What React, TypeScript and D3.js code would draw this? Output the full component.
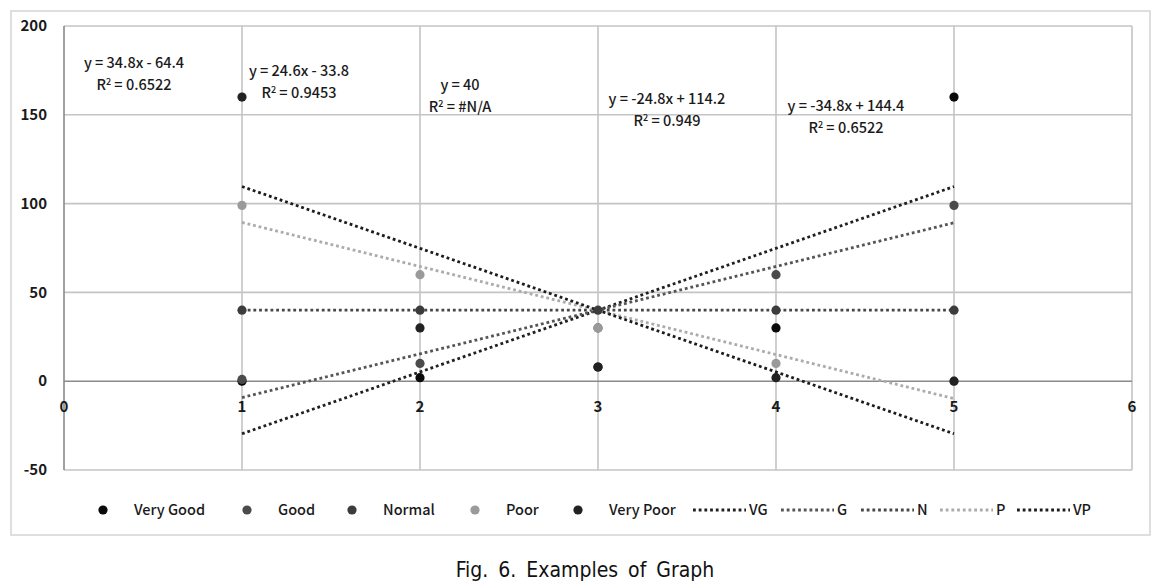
import React from 'react';
import * as d3 from 'd3';

// survey answers per grade (x = 1..5)
const grades = [1, 2, 3, 4, 5];
const veryGood = [0, 2, 8, 30, 160];
const good = [1, 10, 30, 60, 99];
const normal = [40, 40, 40, 40, 40];
const poor = [99, 60, 30, 10, 0];
const veryPoor = [160, 30, 8, 2, 0];

const seriesNames = ['Very Good', 'Good', 'Normal', 'Poor', 'Very Poor'];
const trendNames = ['VG', 'G', 'N', 'P', 'VP'];
const equations = ['y = 34.8x - 64.4', 'y = 24.6x - 33.8', 'y = 40', 'y = -24.8x + 114.2', 'y = -34.8x + 144.4'];
const rSquared = ['0.6522', '0.9453', '#N/A', '0.949', '0.6522'];

const xTicks = [0, 1, 2, 3, 4, 5, 6];
const yTicks = [-50, 0, 50, 100, 150, 200];

const W = 1170;
const H = 588;
const plot = { left: 64, right: 1132, top: 26, bottom: 470 };

const pointColors = ['#0a0a0a', '#4b4b4b', '#3c3c3c', '#9a9a9a', '#222222'];
const trendColors = ['#202020', '#555555', '#474747', '#ababab', '#1c1c1c'];

// label placement (pixel centers of the equation line; R² sits 22px below)
const eqPos = [
  [134, 63],
  [299, 71],
  [460, 85],
  [667, 99],
  [846, 106],
];

const legendMarkerX = [103, 247, 352, 475, 578];
const legendLineX = [693, 781, 861, 940, 1017];

const font = "'Noto Sans CJK KR', 'Noto Sans', sans-serif";

function fit(ys: number[]) {
  const mx = d3.mean(grades)!;
  const my = d3.mean(ys)!;
  const sxy = d3.sum(grades, (x, i) => (x - mx) * (ys[i] - my));
  const sxx = d3.sum(grades, x => (x - mx) ** 2);
  const slope = sxy / sxx;
  return { slope, intercept: my - slope * mx };
}

export default function App() {
  const x = d3.scaleLinear().domain([0, 6]).range([plot.left, plot.right]);
  const y = d3.scaleLinear().domain([-50, 200]).range([plot.bottom, plot.top]);
  const all = [veryGood, good, normal, poor, veryPoor];
  const dash = '2.8 2.9';

  return (
    <svg width={W} height={H} style={{ position: 'absolute', left: 0, top: 0, background: '#fff' }}>
      <rect x={11} y={11} width={1139} height={524} fill="#fff" stroke="#d4d4d4" strokeWidth={1.5} />

      {/* grid */}
      {yTicks.filter(t => t !== 0).map(t => (
        <line key={'gy' + t} x1={plot.left} x2={plot.right} y1={y(t)} y2={y(t)} stroke="#c4c4c4" strokeWidth={1.6} />
      ))}
      {xTicks.filter(t => t !== 0).map(t => (
        <line key={'gx' + t} x1={x(t)} x2={x(t)} y1={plot.top} y2={plot.bottom} stroke="#c4c4c4" strokeWidth={1.6} />
      ))}
      <line x1={plot.left} x2={plot.right} y1={y(0)} y2={y(0)} stroke="#8a8a8a" strokeWidth={1.6} />
      <line x1={x(0)} x2={x(0)} y1={plot.top} y2={plot.bottom} stroke="#8a8a8a" strokeWidth={1.6} />

      {/* tick labels */}
      {yTicks.map(t => (
        <text key={'ty' + t} x={47} y={y(t)} dy="0.35em" textAnchor="end" fontFamily={font} fontSize={15} fontWeight={600} fill="#1a1a1a">
          {t}
        </text>
      ))}
      {xTicks.map(t => (
        <text key={'tx' + t} x={x(t)} y={y(0) + 26} dy="0.35em" textAnchor="middle" fontFamily={font} fontSize={15} fontWeight={600} fill="#1a1a1a">
          {t}
        </text>
      ))}

      {/* trendlines */}
      {all.map((ys, i) => {
        const f = fit(ys);
        const x0 = grades[0];
        const x1 = grades[grades.length - 1];
        return (
          <line key={'tr' + i} x1={x(x0)} y1={y(f.slope * x0 + f.intercept)} x2={x(x1)} y2={y(f.slope * x1 + f.intercept)}
            stroke={trendColors[i]} strokeWidth={2.8} strokeDasharray={dash} />
        );
      })}

      {/* points */}
      {all.map((ys, i) => (
        <g key={'s' + i} fill={pointColors[i]}>
          {ys.map((v, j) => (
            <circle key={j} cx={x(grades[j])} cy={y(v)} r={4.6} />
          ))}
        </g>
      ))}

      {/* equations */}
      {equations.map((eq, i) => (
        <g key={'eq' + i} fontFamily={font} fontSize={14.5} fontWeight={500} fill="#1a1a1a" textAnchor="middle">
          <text x={eqPos[i][0]} y={eqPos[i][1]} dy="0.35em">{eq}</text>
          <text x={eqPos[i][0]} y={eqPos[i][1] + 22} dy="0.35em">
            R<tspan dy="-5" fontSize={9}>2</tspan><tspan dy="5"> = {rSquared[i]}</tspan>
          </text>
        </g>
      ))}

      {/* legend */}
      {seriesNames.map((n, i) => (
        <g key={'lm' + i}>
          <circle cx={legendMarkerX[i]} cy={510} r={4.6} fill={pointColors[i]} />
          <text x={legendMarkerX[i] + 31} y={510} dy="0.35em" fontFamily={font} fontSize={14.5} fontWeight={500} fill="#1a1a1a">{n}</text>
        </g>
      ))}
      {trendNames.map((n, i) => (
        <g key={'ll' + i}>
          <line x1={legendLineX[i]} x2={legendLineX[i] + 53} y1={510} y2={510} stroke={trendColors[i]} strokeWidth={2.8} strokeDasharray={dash} />
          <text x={legendLineX[i] + 56} y={510} dy="0.35em" fontFamily={font} fontSize={14.5} fontWeight={500} fill="#1a1a1a">{n}</text>
        </g>
      ))}

      <text x={585} y={570} dy="0.35em" textAnchor="middle" fontFamily="'Liberation Sans Narrow', 'DejaVu Sans Condensed', sans-serif"
        fontSize={21} wordSpacing={4} fill="#111">
        Fig. 6. Examples of Graph
      </text>
    </svg>
  );
}
